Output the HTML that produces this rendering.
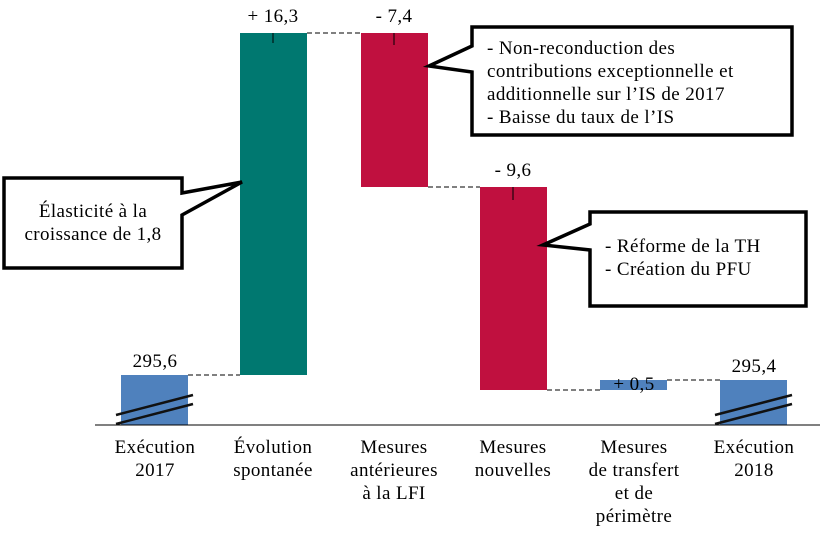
<!DOCTYPE html>
<html><head><meta charset="utf-8"><style>body{margin:0;background:#fff}svg{display:block}text{font-family:"Liberation Serif",serif;font-size:19px;letter-spacing:0.4px;fill:#000}</style></head><body>
<svg width="827" height="537" viewBox="0 0 827 537" xmlns="http://www.w3.org/2000/svg">
<rect x="121" y="375" width="67" height="50" fill="#4F81BD"/>
<rect x="240" y="33" width="67" height="342" fill="#007870"/>
<rect x="361" y="33" width="67" height="154" fill="#C0103F"/>
<rect x="480" y="187" width="67" height="203" fill="#C0103F"/>
<rect x="600" y="380" width="67" height="10" fill="#4F81BD"/>
<rect x="720" y="380" width="67" height="45" fill="#4F81BD"/>
<g stroke="#000" stroke-width="1" stroke-dasharray="5,3" fill="none">
<line x1="188" y1="375" x2="240" y2="375"/><line x1="307" y1="33" x2="361" y2="33"/>
<line x1="428" y1="187" x2="480" y2="187"/><line x1="547" y1="390" x2="600" y2="390"/>
<line x1="667" y1="380" x2="720" y2="380"/></g>
<g stroke="#000" stroke-width="1"><line x1="273" y1="33" x2="273" y2="43"/><line x1="394" y1="33" x2="394" y2="45"/><line x1="513" y1="187" x2="513" y2="200"/></g>
<line x1="95" y1="425" x2="820" y2="425" stroke="#000" stroke-width="1"/>
<g stroke="#111" stroke-width="2.5"><line x1="116" y1="415" x2="193" y2="395"/><line x1="116" y1="424" x2="193" y2="404"/>
<line x1="715" y1="415" x2="792" y2="395"/><line x1="715" y1="424" x2="792" y2="404"/></g>
<g stroke="#000" stroke-width="3.5" fill="#fff" stroke-linejoin="miter">
<path d="M472,27 H792 V135 H472 V72 L429,66 L472,46 Z"/>
<path d="M4,178 H182 V193 L242,182 L182,215 V268 H4 Z"/>
<path d="M590,212 H806 V306 H590 V250 L543,245 L590,224 Z"/></g>
<text x="155" y="367" text-anchor="middle">295,6</text>
<text x="273" y="22" text-anchor="middle">+ 16,3</text>
<text x="394" y="22" text-anchor="middle">- 7,4</text>
<text x="513" y="176" text-anchor="middle">- 9,6</text>
<text x="634" y="390" text-anchor="middle">+ 0,5</text>
<text x="754" y="372" text-anchor="middle">295,4</text>
<text x="487" y="54">- Non-reconduction des</text>
<text x="487" y="77">contributions exceptionnelle et</text>
<text x="487" y="100">additionnelle sur l’IS de 2017</text>
<text x="487" y="123">- Baisse du taux de l’IS</text>
<text x="93" y="217" text-anchor="middle">Élasticité à la</text>
<text x="93" y="240" text-anchor="middle">croissance de 1,8</text>
<text x="605" y="252">- Réforme de la TH</text>
<text x="605" y="275">- Création du PFU</text>
<g text-anchor="middle">
<text x="155" y="453">Exécution</text><text x="155" y="476">2017</text>
<text x="273" y="453">Évolution</text><text x="273" y="476">spontanée</text>
<text x="394" y="453">Mesures</text><text x="394" y="476">antérieures</text><text x="394" y="499">à la LFI</text>
<text x="513" y="453">Mesures</text><text x="513" y="476">nouvelles</text>
<text x="634" y="453">Mesures</text><text x="634" y="476">de transfert</text><text x="634" y="499">et de</text><text x="634" y="522">périmètre</text>
<text x="754" y="453">Exécution</text><text x="754" y="476">2018</text>
</g>
</svg>
</body></html>
